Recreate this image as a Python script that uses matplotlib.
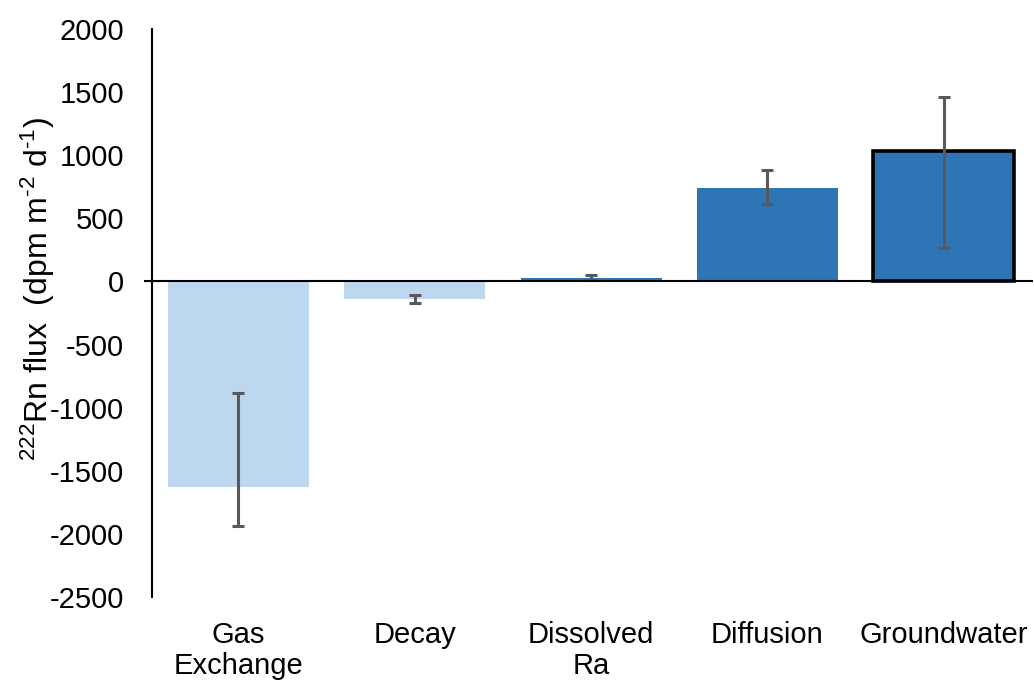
import matplotlib
matplotlib.use("Agg")
import matplotlib.pyplot as plt
import numpy as np

plt.rcParams['font.family'] = ['Liberation Sans', 'DejaVu Sans']
plt.rcParams['mathtext.fontset'] = 'custom'
plt.rcParams['mathtext.rm'] = 'Liberation Sans'
plt.rcParams['mathtext.it'] = 'Liberation Sans'

categories = ["Gas\nExchange", "Decay", "Dissolved\nRa", "Diffusion", "Groundwater"]
values = [-1626, -141, 28, 743, 1030]
err_low = [311, 30, 20, 129, 762]
err_high = [740, 30, 20, 141, 430]
colors = ["#BDD7EE", "#BDD7EE", "#2E75B6", "#2E75B6", "#2E75B6"]
yticks = [-2500, -2000, -1500, -1000, -500, 0, 500, 1000, 1500, 2000]

fig = plt.figure(figsize=(10.34, 6.85), dpi=100)
ax = fig.add_axes([152/1034, 1-597/685, 880/1034, 568/685])

x = np.arange(len(categories))
bars = ax.bar(x, values, width=0.8, color=colors, zorder=2)
bars[4].set_edgecolor('black')
bars[4].set_linewidth(2.6)
ax.errorbar(x, values, yerr=[err_low, err_high], fmt='none', ecolor='#595959',
            elinewidth=2.2, capsize=4.5, capthick=2.2, zorder=3)

ax.set_xlim(-0.49, 4.5)
ax.set_ylim(-2500, 2000)
ax.set_yticks(yticks)
ax.set_yticklabels([str(v) for v in yticks], fontsize=21)
ax.set_xticks(x)
ax.set_xticklabels(categories, fontsize=21, linespacing=1.15)
ax.tick_params(axis='y', length=0, pad=20)
ax.tick_params(axis='x', length=0, pad=17)

for s in ['top', 'right', 'bottom']:
    ax.spines[s].set_visible(False)
ax.spines['left'].set_linewidth(1.5)
ax.axhline(0, xmin=-0.008, xmax=1, color='black', linewidth=1.5, clip_on=False, zorder=4)

ax.set_ylabel(r'$^{222}$Rn flux  (dpm m$^{\text{-}2}$ d$^{\text{-}1}$)', fontsize=23)
ax.yaxis.set_label_coords(-0.108, 0.542)

fig.savefig("out.png", dpi=100)
